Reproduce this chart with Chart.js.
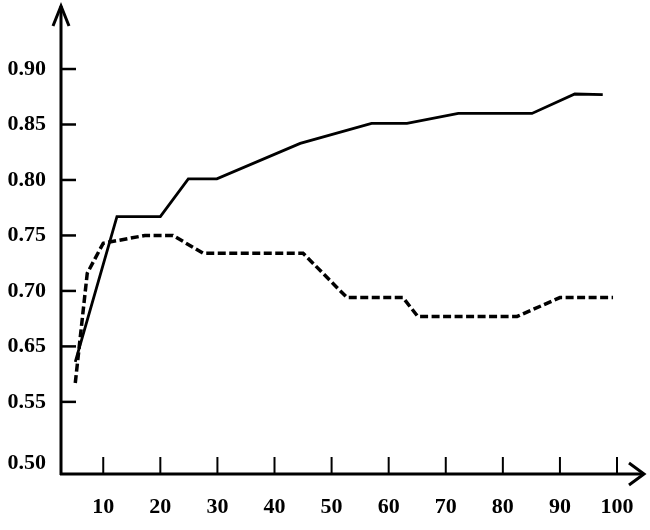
<!DOCTYPE html>
<html>
<head>
<meta charset="utf-8">
<script src="https://cdn.jsdelivr.net/npm/chart.js@4/dist/chart.umd.min.js"></script>
<style>
    html, body { margin: 0; padding: 0; background: #fff; }
    #wrap { width: 650px; height: 530px; }
</style>
</head>
<body>
<div id="wrap"><canvas id="chart"></canvas></div>
<script>
// 横轴刻度
const xTicks = [10, 20, 30, 40, 50, 60, 70, 80, 90, 100];
// 纵轴刻度（原图缺 0.60，标签照原图）
const yTickValues = [0.545, 0.60, 0.65, 0.70, 0.75, 0.80, 0.85, 0.90];
const yTickLabels = ['0.50', '0.55', '0.65', '0.70', '0.75', '0.80', '0.85', '0.90'];

// 实线
const solidX = [5.1, 12.4, 20.0, 24.9, 29.9, 44.5, 57.0, 63.2, 72.2, 85.1, 92.6, 97.5];
const solidY = [0.636, 0.767, 0.767, 0.801, 0.801, 0.833, 0.851, 0.851, 0.860, 0.860, 0.8775, 0.877];

// 虚线
const dashX = [5.1, 7.2, 10.0, 17.3, 22.2, 27.5, 45.0, 52.7, 62.5, 65.1, 82.5, 90.0, 99.3];
const dashY = [0.617, 0.716, 0.743, 0.750, 0.750, 0.734, 0.734, 0.694, 0.694, 0.677, 0.677, 0.694, 0.694];

const toPoints = (xs, ys) => xs.map((x, i) => ({ x, y: ys[i] }));

// 画坐标轴、箭头和向内的刻度
const axisPlugin = {
    id: 'axisArrows',
    afterDraw(chart) {
        const { ctx, chartArea: a, scales: { x, y } } = chart;
        ctx.save();
        ctx.strokeStyle = '#000';
        ctx.lineWidth = 3;
        ctx.lineJoin = 'miter';

        ctx.beginPath();
        ctx.moveTo(a.left, a.bottom + 1);
        ctx.lineTo(a.left, a.top + 1);
        ctx.stroke();
        ctx.beginPath();
        ctx.moveTo(a.left - 8, a.top + 21);
        ctx.lineTo(a.left, a.top + 1);
        ctx.lineTo(a.left + 8, a.top + 21);
        ctx.stroke();

        ctx.beginPath();
        ctx.moveTo(a.left - 1, a.bottom);
        ctx.lineTo(a.right - 1, a.bottom);
        ctx.stroke();
        ctx.beginPath();
        ctx.moveTo(a.right - 16, a.bottom - 11);
        ctx.lineTo(a.right - 1, a.bottom);
        ctx.lineTo(a.right - 16, a.bottom + 11);
        ctx.stroke();

        ctx.lineWidth = 2.5;
        yTickValues.forEach((v, i) => {
            if (yTickLabels[i] === '0.50') return;
            const py = y.getPixelForValue(v);
            ctx.beginPath();
            ctx.moveTo(a.left, py);
            ctx.lineTo(a.left + 15, py);
            ctx.stroke();
        });
        ctx.lineWidth = 2;
        xTicks.forEach(v => {
            const px = x.getPixelForValue(v);
            ctx.beginPath();
            ctx.moveTo(px, a.bottom);
            ctx.lineTo(px, a.bottom - 17);
            ctx.stroke();
        });
        ctx.restore();
    }
};

// lineHeight 设小，免得纵轴给标签留出上边距
const tickFont = { family: "'Liberation Serif', serif", size: 22, weight: 'bold', lineHeight: 0.3 };
// 标签与轴的距离用透明刻度长度来撑，padding 为 0 以免挤压绘图区
const hiddenTicks = len => ({ display: false, drawTicks: true, tickLength: len, tickColor: 'rgba(0,0,0,0)' });

new Chart(document.getElementById('chart'), {
    type: 'line',
    data: {
        datasets: [{
            data: toPoints(solidX, solidY),
            borderColor: '#000',
            borderWidth: 2.8,
            pointRadius: 0,
            tension: 0
        }, {
            data: toPoints(dashX, dashY),
            borderColor: '#000',
            borderWidth: 3.5,
            borderDash: [8, 3.5],
            pointRadius: 0,
            tension: 0
        }]
    },
    options: {
        responsive: true,
        maintainAspectRatio: false,
        animation: false,
        layout: { padding: { top: 5, right: 5, left: 0, bottom: 0 } },
        plugins: { legend: { display: false }, tooltip: { enabled: false } },
        scales: {
            x: {
                type: 'linear',
                min: 2.6,
                max: 104.9,
                afterBuildTicks: scale => { scale.ticks = xTicks.map(v => ({ value: v })); },
                afterFit: scale => { scale.height = 56; },
                grid: hiddenTicks(30),
                border: { display: false },
                ticks: { color: '#000', font: tickFont, padding: 0, maxRotation: 0, autoSkip: false }
            },
            y: {
                type: 'linear',
                min: 0.535,
                max: 0.9577,
                afterBuildTicks: scale => { scale.ticks = yTickValues.map(v => ({ value: v })); },
                afterFit: scale => { scale.width = 61; },
                grid: hiddenTicks(15),
                border: { display: false },
                ticks: {
                    color: '#000',
                    font: tickFont,
                    padding: 0,
                    autoSkip: false,
                    callback: (v, i) => yTickLabels[i]
                }
            }
        }
    },
    plugins: [axisPlugin]
});
</script>
</body>
</html>
